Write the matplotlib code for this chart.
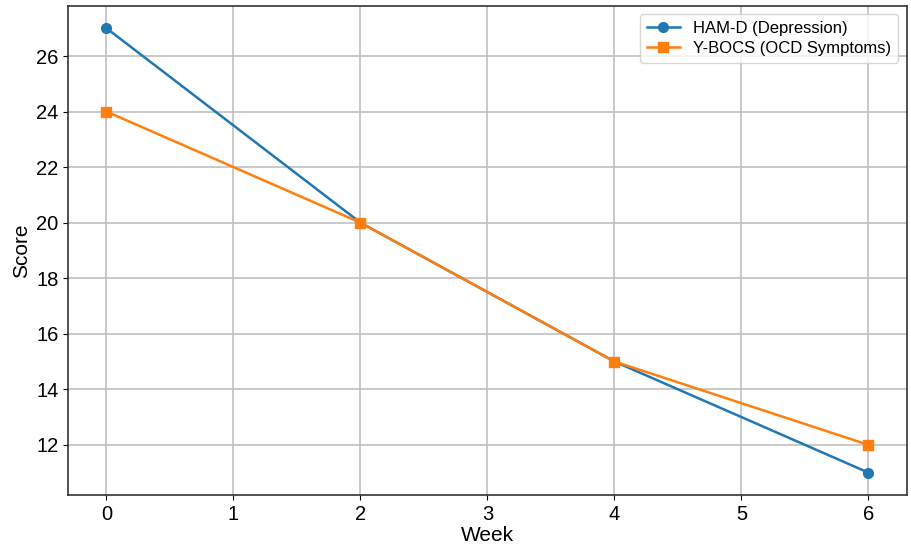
import matplotlib.pyplot as plt

weeks = [0, 2, 4, 6]
ham_d = [27, 20, 15, 11]
y_bocs = [24, 20, 15, 12]

plt.rcParams['font.family'] = ['Liberation Sans', 'DejaVu Sans']

fig, ax = plt.subplots(figsize=(9.12, 5.48), dpi=100)
ax.plot(weeks, ham_d, marker='o', color='#1f77b4', linewidth=1.8, markersize=7, label='HAM-D (Depression)')
ax.plot(weeks, y_bocs, marker='s', color='#ff7f0e', linewidth=1.8, markersize=7, label='Y-BOCS (OCD Symptoms)')

ax.set_xlabel('Week', fontsize=15, labelpad=2)
ax.set_ylabel('Score', fontsize=15)
ax.tick_params(labelsize=14.5)
ax.grid(True, color='#c0c0c0', linewidth=1.2)
for s in ax.spines.values():
    s.set_color('#333333')
    s.set_linewidth(1.2)
ax.legend(loc='upper right', fontsize=12, handlelength=2, borderpad=0.4, labelspacing=0.3)

fig.subplots_adjust(left=0.075, right=0.994, top=0.989, bottom=0.097)
fig.savefig('out.png', dpi=100)
